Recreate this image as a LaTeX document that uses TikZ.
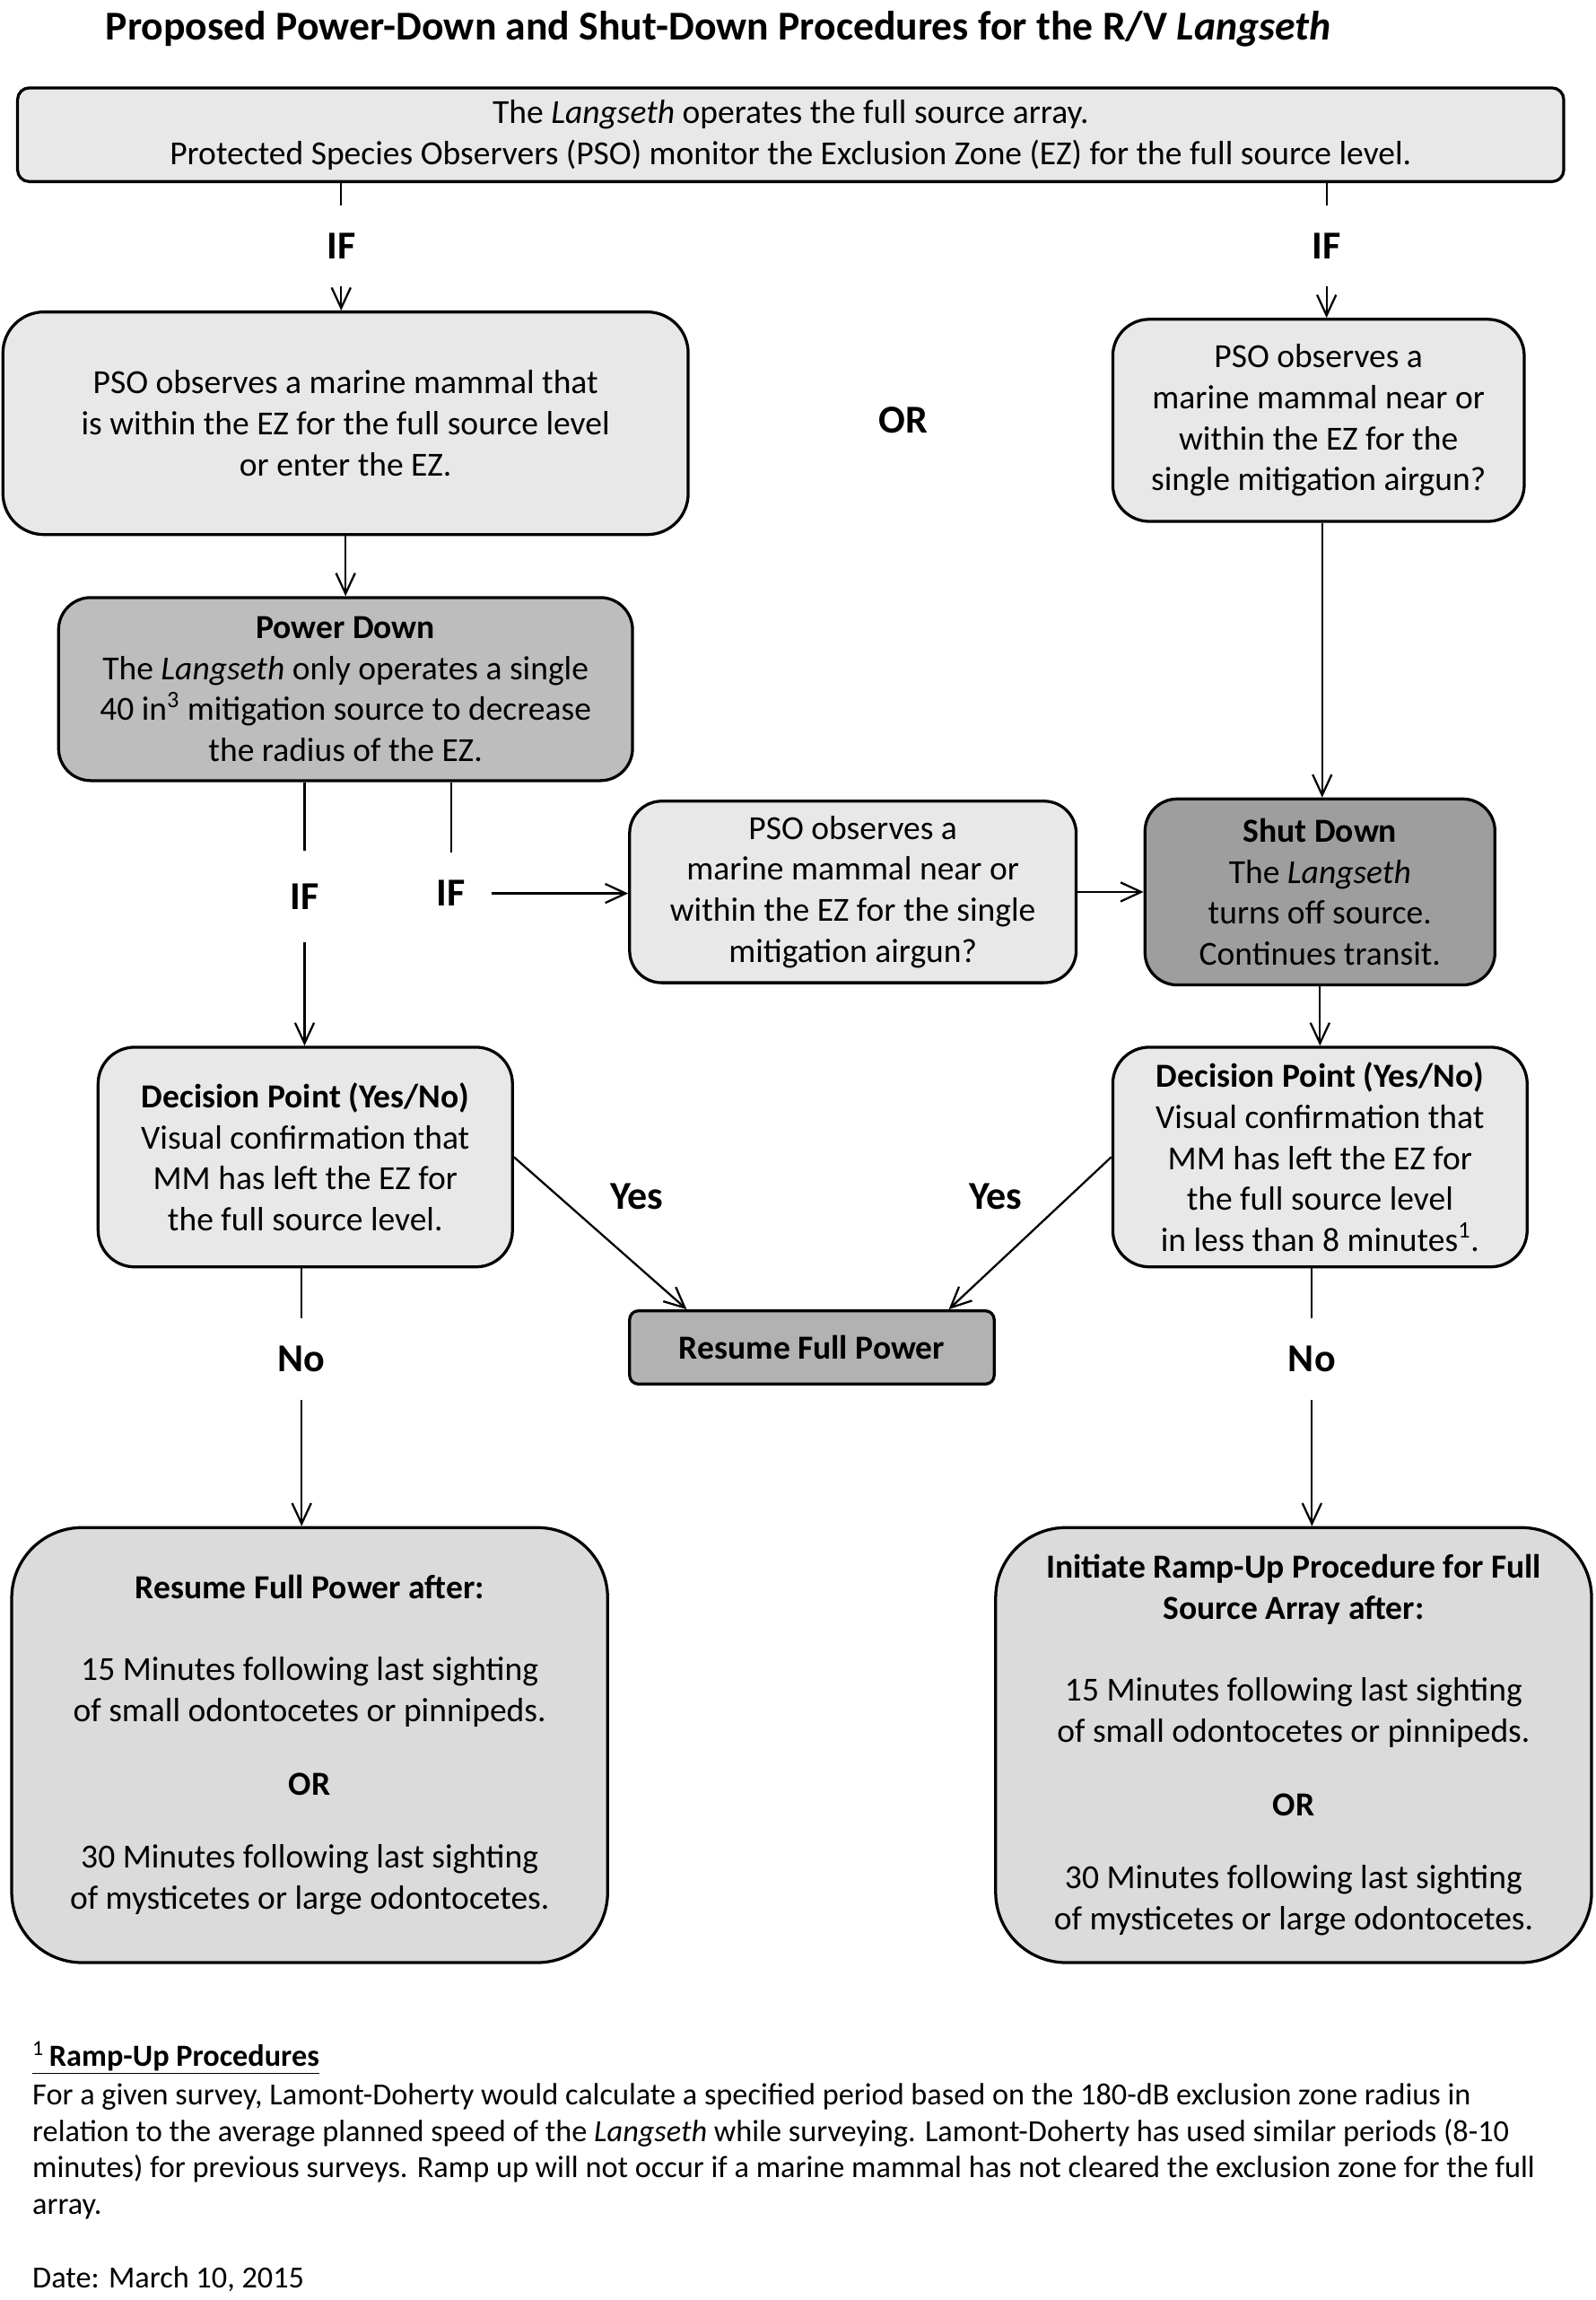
\documentclass[tikz,border=0pt]{standalone}
\usepackage{fontspec}
\setmainfont{Carlito}
\usetikzlibrary{arrows.meta,calc}
\definecolor{lightfill}{gray}{0.91}
\definecolor{midfill}{gray}{0.86}
\definecolor{pdfill}{gray}{0.74}
\definecolor{sdfill}{gray}{0.62}
\definecolor{rfpfill}{gray}{0.70}
\begin{document}
\begin{tikzpicture}[x=1pt,y=-1pt,
  box/.style={draw=black, line width=2pt, align=center, inner sep=0pt, font=\fontsize{23}{28}\selectfont},
  lbl/.style={font=\bfseries\fontsize{27}{30}\selectfont, inner sep=0pt, minimum width=55pt, minimum height=55pt},
  conn/.style={line width=1.4pt},
  arr/.style={line width=1.4pt, -{Straight Barb[length=14pt,width=13pt]}},
  fn/.style={anchor=base west, inner sep=0pt, font=\fontsize{21}{25}\selectfont}
]
\useasboundingbox (0,0) rectangle (1090,1570.4);

\node[anchor=base west, inner sep=0pt, font=\bfseries\fontsize{28}{32}\selectfont] (title) at (72,27)
  {Proposed Power-Down and Shut-Down Procedures for the R/V \textit{Langseth}};

\node[box, fill=lightfill, rounded corners=8pt, minimum width=1056pt, minimum height=64pt] (box1) at (540,92)
  {The \textit{Langseth} operates the full source array.\\
   Protected Species Observers (PSO) monitor the Exclusion Zone (EZ) for the full source level.};

\node[box, fill=lightfill, rounded corners=28pt, minimum width=468pt, minimum height=152pt] (box2) at (236,289)
  {PSO observes a marine mammal that\\ is within the EZ for the full source level\\ or enter the EZ.};

\node[box, fill=lightfill, rounded corners=25pt, minimum width=281pt, minimum height=138pt] (box3) at (900.5,287)
  {PSO observes a\\ marine mammal near or\\ within the EZ for the\\ single mitigation airgun?};

\node[box, fill=pdfill, rounded corners=22pt, minimum width=392pt, minimum height=125pt] (box4) at (236,470.5)
  {\textbf{Power Down}\\ The \textit{Langseth} only operates a single\\ 40 in\textsuperscript{3} mitigation source to decrease\\ the radius of the EZ.};

\node[box, fill=lightfill, rounded corners=22pt, minimum width=305pt, minimum height=124pt] (box5) at (582.5,609)
  {PSO observes a\\ marine mammal near or\\ within the EZ for the single\\ mitigation airgun?};

\node[box, fill=sdfill, rounded corners=22pt, minimum width=239pt, minimum height=127pt] (box7) at (901.5,609)
  {\textbf{Shut Down}\\ The \textit{Langseth}\\ turns off source.\\ Continues transit.};

\node[box, fill=lightfill, rounded corners=25pt, minimum width=283pt, minimum height=150pt] (box6) at (208.5,790)
  {\textbf{Decision Point (Yes/No)}\\ Visual confirmation that\\ MM has left the EZ for\\ the full source level.};

\node[box, fill=lightfill, rounded corners=25pt, minimum width=283pt, minimum height=150pt] (box8) at (901.5,790)
  {\textbf{Decision Point (Yes/No)}\\ Visual confirmation that\\ MM has left the EZ for\\ the full source level\\ in less than 8 minutes\textsuperscript{1}.};

\node[box, fill=rfpfill, rounded corners=6pt, minimum width=249pt, minimum height=50pt] (box9) at (554.5,920)
  {\textbf{Resume Full Power}};

\node[box, fill=midfill, rounded corners=48pt, minimum width=407pt, minimum height=297pt] (box10) at (211.5,1191.5)
  {\textbf{Resume Full Power after:}\\[28pt]
   15 Minutes following last sighting\\ of small odontocetes or pinnipeds.\\[22pt]
   \textbf{OR}\\[22pt]
   30 Minutes following last sighting\\ of mysticetes or large odontocetes.};

\node[box, fill=midfill, rounded corners=48pt, minimum width=407pt, minimum height=297pt] (box11) at (883.5,1191.5)
  {\textbf{Initiate Ramp-Up Procedure for Full}\\ \textbf{Source Array after:}\\[28pt]
   15 Minutes following last sighting\\ of small odontocetes or pinnipeds.\\[22pt]
   \textbf{OR}\\[22pt]
   30 Minutes following last sighting\\ of mysticetes or large odontocetes.};

% labels
\node[lbl] (if1) at (233,168) {IF};
\node[lbl] (if2) at (906,168) {IF};
\node[lbl] (or1) at (617,287) {OR};
\node[lbl, minimum height=62pt] (if3) at (208,612) {IF};
\node[lbl] (if4) at (308,610) {IF};
\node[lbl] (yes1) at (435,817) {Yes};
\node[lbl] (yes2) at (680,817) {Yes};
\node[lbl] (no1) at (206,928) {No};
\node[lbl] (no2) at (896,928) {No};

\coordinate (b3s) at ($(box3.south)+(2.5,0)$);
\coordinate (r9a) at ($(box9.north west)+(40,0)$);
\coordinate (r9b) at ($(box9.north east)+(-32,0)$);

% connectors
\draw[conn] (box1.south -| if1) -- (if1.north);
\draw[arr] (if1.south) -- (box2.north -| if1);
\draw[conn] (box1.south -| if2) -- (if2.north);
\draw[arr] (if2.south) -- (box3.north -| if2);
\draw[arr] (box2.south) -- (box4.north);
\draw[conn] (box4.south -| if3) -- (if3.north);
\draw[arr] (if3.south) -- (box6.north -| if3);
\draw[conn] (box4.south -| if4) -- (if4.north);
\draw[arr] (if4.east) -- (box5.west |- if4);
\draw[arr] (box5.east) -- (box7.west |- box5.east);
\draw[arr] (b3s) -- (b3s |- box7.north);
\draw[arr] (box7.south) -- (box8.north);
\draw[arr] (box6.east) -- (r9a);
\draw[arr] (box8.west) -- (r9b);
\draw[conn] (box6.south -| no1) -- (no1.north);
\draw[arr] (no1.south) -- (box10.north -| no1);
\draw[conn] (box8.south -| no2) -- (no2.north);
\draw[arr] (no2.south) -- (box11.north -| no2);

% footnote
\node[fn] (fn0) at (22,1411) {\underline{\textsuperscript{1}\,\textbf{Ramp-Up Procedures}}};
\node[fn] (fn1) at (22,1437) {For a given survey, Lamont-Doherty would calculate a specified period based on the 180-dB exclusion zone radius in};
\node[fn] (fn2) at (22,1462) {relation to the average planned speed of the \textit{Langseth} while surveying. Lamont-Doherty has used similar periods (8-10};
\node[fn] (fn3) at (22,1487) {minutes) for previous surveys. Ramp up will not occur if a marine mammal has not cleared the exclusion zone for the full};
\node[fn] (fn4) at (22,1512) {array.};
\node[fn] (fn5) at (22,1562) {Date: March 10, 2015};
\end{tikzpicture}
\end{document}
